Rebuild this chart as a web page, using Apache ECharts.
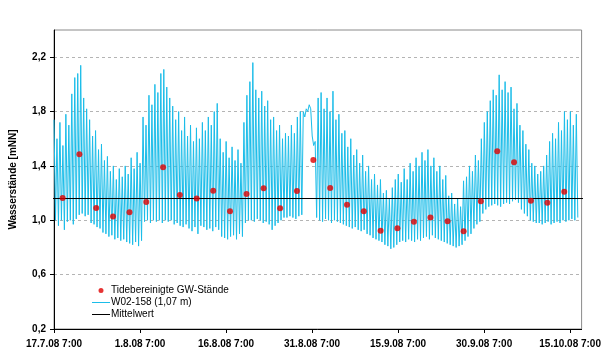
<!DOCTYPE html>
<html>
<head>
<meta charset="utf-8">
<script src="https://cdn.jsdelivr.net/npm/echarts@6/dist/echarts.min.js"></script>
<style>html,body{margin:0;padding:0;background:#fff}#c{width:606px;height:364px}</style>
</head>
<body>
<div id="c"></div>
<script>
// x in days after 17.7.08 7:00
const xTicks = [0, 15, 30, 45, 60, 75, 90];
const xTickLabels = ['17.7.08 7:00', '1.8.08 7:00', '16.8.08 7:00', '31.8.08 7:00', '15.9.08 7:00', '30.9.08 7:00', '15.10.08 7:00'];
const yTicks = [0.2, 0.6, 1.0, 1.4, 1.8, 2.2];
const yTickLabels = ['0,2', '0,6', '1,0', '1,4', '1,8', '2,2'];

const seriesNames = ['Tidebereinigte GW-Stände', 'W02-158 (1,07 m)', 'Mittelwert'];

// tide-corrected groundwater levels
const dotDays = [1.50, 4.43, 7.36, 10.29, 13.16, 16.09, 19.02, 21.95, 24.88, 27.76, 30.69, 33.57, 36.55, 39.43, 42.36, 45.22,
  48.16, 51.09, 54.02, 56.95, 59.88, 62.76, 65.64, 68.62, 71.43, 74.43, 77.29, 80.22, 83.16, 86.03, 88.97];
const dotValues = [1.164, 1.486, 1.09, 1.027, 1.059, 1.135, 1.39, 1.186, 1.16, 1.218, 1.066, 1.194, 1.236, 1.088, 1.216, 1.444,
  1.238, 1.115, 1.066, 0.923, 0.941, 0.99, 1.02, 0.993, 0.92, 1.14, 1.508, 1.427, 1.144, 1.129, 1.21];

// tidal cycle (12.42 h) high and low readings of W02-158
const tidePeriodDays = 12.42 / 24;
const tideHigh = [
  1.74, 1.60, 1.72, 1.55, 1.78, 1.70, 1.93, 2.05, 2.08, 2.14, 1.90, 1.82,
  1.74, 1.62, 1.66, 1.52, 1.56, 1.44, 1.47, 1.36, 1.40, 1.30, 1.38, 1.32,
  1.40, 1.34, 1.46, 1.38, 1.50, 1.42, 1.76, 1.70, 1.92, 1.85, 2.00, 1.94,
  2.08, 2.11, 1.98, 1.90, 1.84, 1.74, 1.80, 1.66, 1.76, 1.62, 1.70, 1.58,
  1.68, 1.60, 1.72, 1.66, 1.76, 1.70, 1.80, 1.86, 1.60, 1.50, 1.58, 1.46,
  1.54, 1.44, 1.52, 1.42, 1.72, 1.92, 2.02, 2.16, 1.96, 1.90, 1.95, 1.84,
  1.88, 1.74, 1.76, 1.66, 1.70, 1.60, 1.64, 1.62, 1.70, 1.64, 1.76, 1.80,
  1.80, 1.82, 1.85, 1.62, 1.58, 1.90, 1.94, 1.82, 1.90, 1.80, 1.95, 1.74,
  1.78, 1.64, 1.66, 1.54, 1.60, 1.48, 1.52, 1.42, 1.48, 1.36, 1.40, 1.30,
  1.34, 1.26, 1.30, 1.20, 1.22, 1.16, 1.24, 1.30, 1.34, 1.28, 1.38, 1.30,
  1.42, 1.36, 1.46, 1.40, 1.50, 1.44, 1.52, 1.40, 1.46, 1.36, 1.40, 1.30,
  1.33, 1.18, 1.20, 1.12, 1.16, 1.10, 1.29, 1.32, 1.40, 1.36, 1.48, 1.44,
  1.60, 1.72, 1.80, 1.88, 1.96, 1.92, 2.07, 1.96, 2.02, 1.94, 1.98, 1.82,
  1.86, 1.70, 1.66, 1.56, 1.52, 1.42, 1.40, 1.34, 1.36, 1.40, 1.48, 1.58,
  1.64, 1.60, 1.72, 1.66, 1.80, 1.74, 1.80, 1.70, 1.78
];
const tideLow = [
  1.00, 0.96, 1.00, 0.93, 0.99, 1.00, 0.97, 1.01, 1.04, 1.05, 1.03, 1.04,
  0.98, 0.97, 0.95, 0.94, 0.91, 0.90, 0.88, 0.89, 0.86, 0.87, 0.85, 0.86,
  0.84, 0.83, 0.82, 0.84, 0.81, 0.85, 0.99, 1.00, 0.98, 1.00, 0.99, 1.00,
  0.98, 1.00, 0.99, 1.00, 0.97, 0.98, 0.96, 0.95, 0.97, 0.94, 0.92, 0.95,
  0.90, 0.96, 0.95, 0.93, 0.94, 0.92, 0.95, 0.93, 0.88, 0.87, 0.86, 0.88,
  0.89, 0.86, 0.90, 0.88, 0.98, 1.00, 1.00, 0.99, 1.01, 1.00, 0.98, 0.99,
  0.97, 0.93, 0.96, 0.98, 1.00, 1.02, 1.02, 1.03, 1.02, 1.01, 1.03, 1.04,
  1.76, 1.80, 1.82, 1.55, 1.02, 1.00, 0.99, 1.01, 1.00, 0.98, 1.00, 0.99,
  0.98, 0.97, 0.96, 0.95, 0.94, 0.95, 0.93, 0.92, 0.93, 0.90, 0.89, 0.87,
  0.86, 0.85, 0.84, 0.82, 0.81, 0.79, 0.80, 0.82, 0.84, 0.85, 0.84, 0.86,
  0.85, 0.84, 0.86, 0.85, 0.87, 0.88, 0.86, 0.89, 0.87, 0.86, 0.85, 0.84,
  0.83, 0.82, 0.81, 0.80, 0.81, 0.82, 0.85, 0.88, 0.90, 0.94, 0.97, 0.99,
  1.05, 1.08, 1.10, 1.11, 1.12, 1.11, 1.10, 1.12, 1.13, 1.12, 1.14, 1.15,
  1.13, 1.08, 1.05, 1.03, 1.00, 0.99, 0.98, 0.98, 0.97, 0.98, 0.99, 0.97,
  0.98, 0.99, 0.98, 1.00, 0.99, 1.00, 1.01, 1.00, 1.02
];

const meanValue = 1.16;
const meanDays = [-1.03, 93.1];

const tideData = [];
for (let i = 0; i < tideHigh.length; i++) {
  tideData.push([i * tidePeriodDays, tideHigh[i]]);
  tideData.push([i * tidePeriodDays + tidePeriodDays / 2, tideLow[i]]);
}
const dotData = dotDays.map((d, i) => [d, dotValues[i]]);
const meanData = meanDays.map(d => [d, meanValue]);

const FONT = 'Liberation Sans, Arial, sans-serif';
const LINE_ICON = 'path://M0,0H18V0.01H0Z M0,4H18V5H0Z M0,7.99H18V8H0Z';
const DOT_ICON = 'path://M0,0H0.01V0.01H0Z M17.99,7.99H18V8H17.99Z M6.5,4.5A2.5,2.5,0,1,0,11.5,4.5A2.5,2.5,0,1,0,6.5,4.5Z';

const chart = echarts.init(document.getElementById('c'), null, {renderer: 'canvas'});
chart.setOption({
  animation: false,
  backgroundColor: '#ffffff',
  grid: {left: 48, right: 24.4, top: 30, bottom: 35, show: true, borderColor: '#8a8a8a', borderWidth: 1, backgroundColor: 'transparent'},
  legend: {
    orient: 'vertical', left: 92, top: 284, padding: 0, itemWidth: 18, itemHeight: 8, itemGap: 0,
    itemStyle: {borderWidth: 0},
    textStyle: {fontFamily: FONT, fontSize: 10, color: '#000', lineHeight: 12, padding: [0, 0, 0, -4]},
    data: [
      {name: seriesNames[0], icon: DOT_ICON},
      {name: seriesNames[1], icon: LINE_ICON},
      {name: seriesNames[2], icon: LINE_ICON}
    ]
  },
  xAxis: {
    type: 'value', min: 0, max: 92,
    axisLine: {show: true, onZero: false, lineStyle: {color: '#000', width: 1}},
    axisTick: {show: true, length: 4, customValues: xTicks, lineStyle: {color: '#000'}},
    axisLabel: {
      customValues: xTicks, margin: 10, color: '#000', fontFamily: FONT, fontWeight: 'bold', fontSize: 10,
      formatter: v => { const k = xTicks.indexOf(Math.round(v)); return k >= 0 ? xTickLabels[k] : ''; }
    },
    splitLine: {show: false}
  },
  yAxis: {
    type: 'value', min: 0.2, max: 2.4,
    name: 'Wasserstände [mNN]', nameLocation: 'middle', nameGap: 36, nameRotate: 90,
    nameTextStyle: {fontFamily: FONT, fontWeight: 'bold', fontSize: 10, color: '#000'},
    axisLine: {show: true, lineStyle: {color: '#000', width: 1}},
    axisTick: {show: true, length: 4, customValues: yTicks, lineStyle: {color: '#000'}},
    axisLabel: {
      customValues: yTicks, margin: 8, color: '#000', fontFamily: FONT, fontWeight: 'bold', fontSize: 10,
      formatter: v => { const k = yTicks.findIndex(t => Math.abs(t - v) < 1e-6); return k >= 0 ? yTickLabels[k] : ''; }
    },
    splitLine: {show: true, lineStyle: {color: '#b4b4b4', type: [3, 3], width: 1}}
  },
  series: [
    {
      name: seriesNames[1], type: 'line', data: tideData, symbol: 'none', z: 2,
      lineStyle: {color: '#1bbde9', width: 1}, itemStyle: {color: '#1bbde9'}
    },
    {
      name: seriesNames[2], type: 'line', data: meanData, symbol: 'none', z: 3, clip: false,
      lineStyle: {color: '#000', width: 1}, itemStyle: {color: '#000'}
    },
    {
      name: seriesNames[0], type: 'scatter', data: dotData, symbol: 'circle', symbolSize: 6, z: 4,
      itemStyle: {color: '#e00000'}
    }
  ]
});
</script>
</body>
</html>
